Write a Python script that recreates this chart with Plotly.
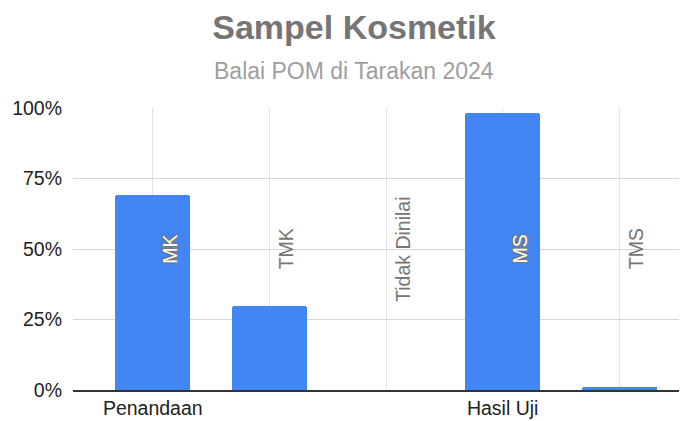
import plotly.graph_objects as go

categories = ["MK", "TMK", "Tidak Dinilai", "MS", "TMS"]
values = [69.2, 29.8, 0.0, 98.1, 1.0]
group_labels = ["Penandaan", "", "", "Hasil Uji", ""]
y_ticks = [0, 25, 50, 75, 100]
y_tick_labels = ["0%", "25%", "50%", "75%", "100%"]
title_text = "Sampel Kosmetik"
subtitle_text = "Balai POM di Tarakan 2024"

FONT = "Arial, 'Liberation Sans', sans-serif"
BLUE = "#4285F4"
x_pos = list(range(len(categories)))

# page body has an 8px margin; figure is sized to fit the 687x421 window
W, H = 679, 413

fig = go.Figure()
fig.add_trace(go.Bar(
    x=x_pos, y=values, width=0.643,
    marker=dict(color=BLUE, cornerradius=3, line=dict(width=0)),
    hoverinfo="skip", showlegend=False,
))

outline = "1px 1px 0 #777, -1px -1px 0 #777, 1px -1px 0 #777, -1px 1px 0 #777"
annotations = []
for xi, cat, v in zip(x_pos, categories, values):
    inside = v > 55
    annotations.append(dict(
        x=xi + 0.145, y=50, xref="x", yref="y", text=cat, textangle=-90,
        showarrow=False, xanchor="center", yanchor="middle",
        font=dict(family=FONT, size=19.5,
                  color="#ffffff" if inside else "#757575",
                  shadow=outline if inside else "none"),
    ))

annotations.append(dict(
    x=0.459, y=1.13, xref="paper", yref="paper", text=subtitle_text,
    showarrow=False, xanchor="center", yanchor="middle",
    font=dict(family=FONT, size=23, color="#9e9e9e"),
))

fig.update_layout(
    width=W, height=H,
    margin=dict(l=65, r=2, t=100, b=31, pad=0),
    paper_bgcolor="white", plot_bgcolor="white",
    title=dict(text="<b>" + title_text + "</b>", x=346 / W, xanchor="center",
               y=1 - 19 / H, yanchor="middle", yref="container", xref="container",
               font=dict(family=FONT, size=34, color="#757575")),
    annotations=annotations,
    bargap=0,
)

fig.update_xaxes(
    range=[-0.684, 4.563], tickmode="array", tickvals=x_pos, ticktext=group_labels,
    showgrid=True, gridcolor="#e3e3e3", gridwidth=1,
    showline=True, linecolor="#333333", linewidth=1.5,
    ticks="", tickfont=dict(family=FONT, size=19.5, color="#222222"),
    zeroline=False, fixedrange=True, automargin=False,
)
fig.update_yaxes(
    range=[0, 100], tickmode="array", tickvals=y_ticks, ticktext=y_tick_labels,
    showgrid=True, gridcolor="#d6d6d6", gridwidth=1,
    zeroline=False, showline=False, ticks="", ticklabelstandoff=10,
    tickfont=dict(family=FONT, size=19.5, color="#222222"), fixedrange=True,
    automargin=False,
)

fig.write_html("out.html")
